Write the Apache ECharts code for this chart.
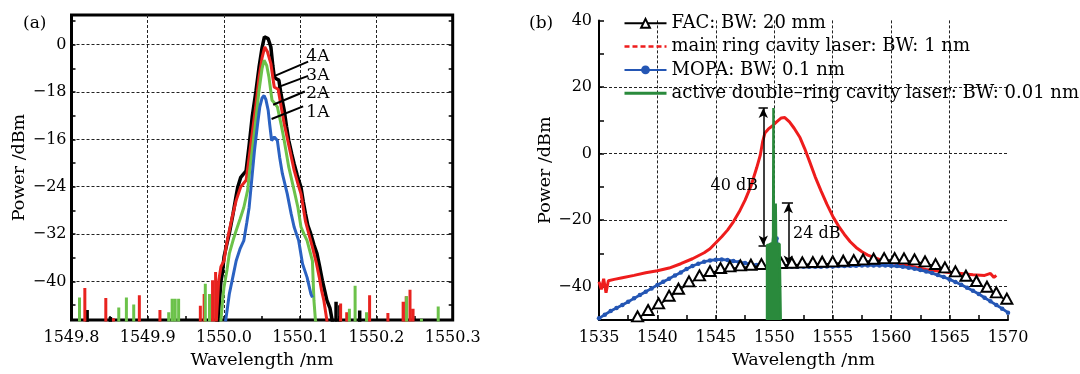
<!DOCTYPE html>
<html><head><meta charset="utf-8">
<script src="https://cdn.jsdelivr.net/npm/echarts@6/dist/echarts.min.js"></script>
<style>html,body{margin:0;padding:0;background:#fff}#c{width:1080px;height:374px}</style>
</head><body><div id="c"></div>
<script>
// ================= DATA =================
// ---- panel (a) ----
const aXTicks = [1549.8, 1549.9, 1550.0, 1550.1, 1550.2, 1550.3];
const aXMinorTicks = [1549.85, 1549.95, 1550.05, 1550.15, 1550.25];
const aYTicks = [0, -8, -16, -24, -32, -40];
const aYTickLabels = ['0', '−18', '−16', '−24', '−32', '−40'];
const aYMinorTicks = [4, -4, -12, -20, -28, -36, -44];
const aCurrents = ['4A', '3A', '2A', '1A'];

const a4A = [[1549.992,-46.8],[1549.996,-40],[1549.998,-38.5],[1550.000,-35.9],[1550.004,-33.5],[1550.007,-31.9],[1550.012,-28.5],[1550.016,-25.5],[1550.018,-24.1],[1550.022,-22.4],[1550.026,-21.8],[1550.029,-21.3],[1550.033,-17],[1550.037,-12.2],[1550.042,-7.8],[1550.046,-3.8],[1550.050,-0.5],[1550.053,1.3],[1550.055,1.6],[1550.058,1.0],[1550.0615,-0.4],[1550.064,-3.5],[1550.066,-5.5],[1550.069,-5.8],[1550.072,-6.0],[1550.075,-8.5],[1550.079,-11.1],[1550.082,-13.8],[1550.085,-16.2],[1550.089,-18.5],[1550.092,-20.1],[1550.096,-22.0],[1550.101,-24.1],[1550.104,-26.5],[1550.107,-28.6],[1550.110,-30.5],[1550.114,-32.0],[1550.118,-33.8],[1550.122,-35.3],[1550.126,-37.8],[1550.129,-39.8],[1550.132,-41.5],[1550.135,-43.2],[1550.139,-44.5],[1550.142,-46.6]];
const a3A = [[1549.990,-46.6],[1549.993,-40],[1549.996,-37.5],[1550.000,-36.5],[1550.003,-34],[1550.006,-32],[1550.011,-29],[1550.016,-26.3],[1550.022,-24],[1550.029,-22.9],[1550.033,-19],[1550.037,-15.0],[1550.042,-10],[1550.046,-5.5],[1550.050,-2.2],[1550.0535,-0.4],[1550.057,-1.2],[1550.0615,-3.2],[1550.064,-5.5],[1550.066,-7.2],[1550.071,-7.5],[1550.075,-10.5],[1550.079,-13.4],[1550.085,-17.0],[1550.092,-21.2],[1550.097,-23.5],[1550.101,-25.2],[1550.107,-29.9],[1550.112,-32.3],[1550.116,-34.2],[1550.121,-36.8],[1550.125,-39.3],[1550.128,-41.5],[1550.131,-43.2],[1550.135,-46.6]];
const a2A = [[1549.996,-46.6],[1549.998,-43.5],[1550.000,-41],[1550.004,-38],[1550.007,-35.3],[1550.012,-33],[1550.016,-31.4],[1550.021,-29.5],[1550.026,-27.5],[1550.031,-24.6],[1550.034,-21],[1550.037,-17.9],[1550.042,-12.5],[1550.046,-7.7],[1550.050,-4.0],[1550.0526,-2.65],[1550.056,-3.5],[1550.059,-5.5],[1550.063,-9.4],[1550.067,-10.0],[1550.070,-10.5],[1550.075,-13.5],[1550.079,-16.2],[1550.085,-20.7],[1550.092,-24.6],[1550.097,-27.5],[1550.101,-30.8],[1550.105,-32],[1550.109,-33.1],[1550.116,-36.5],[1550.117,-40],[1550.118,-43.2],[1550.120,-46.6]];
const a1A = [[1550.002,-46.8],[1550.005,-44],[1550.007,-42.1],[1550.012,-39],[1550.016,-36.5],[1550.021,-34.5],[1550.026,-33.1],[1550.030,-30],[1550.033,-27.5],[1550.037,-22],[1550.040,-17.9],[1550.044,-13.5],[1550.047,-10.5],[1550.050,-9.0],[1550.0526,-8.6],[1550.055,-9.3],[1550.058,-11.1],[1550.060,-13.5],[1550.0625,-16.2],[1550.066,-15.6],[1550.070,-16.2],[1550.073,-19],[1550.0766,-21.8],[1550.083,-25.2],[1550.088,-28.5],[1550.092,-30.8],[1550.098,-33.1],[1550.103,-37.0],[1550.109,-39.3],[1550.114,-42.1],[1550.116,-42.7]];

// noise spikes near the floor: [wavelength, top dBm]
const a4ASpikesL = [[1549.8205,-44.8],[1549.851,-46.0]];
const a4ASpikesR = [[1550.147,-43.4],[1550.152,-44.0],[1550.178,-44.9]];
const a3ASpikesL = [[1549.8175,-41.1],[1549.845,-42.8],[1549.855,-46.2],[1549.889,-42.3],[1549.916,-44.8],[1549.969,-44.1],[1549.974,-42.1],[1549.985,-39.8],[1549.989,-38.4]];
const a3ASpikesR = [[1550.153,-43.7],[1550.161,-45.2],[1550.191,-42.3],[1550.215,-45.3],[1550.235,-43.4],[1550.239,-42.5],[1550.244,-41.4],[1550.248,-44.6]];
const a2ASpikesL = [[1549.8105,-42.7],[1549.862,-44.4],[1549.872,-42.7],[1549.8816,-43.9],[1549.9275,-45.2],[1549.932,-42.9],[1549.936,-42.9],[1549.9405,-42.9],[1549.9755,-40.4],[1549.981,-42.1]];
const a2ASpikesR = [[1550.1645,-44.6],[1550.172,-40.7],[1550.187,-45.2],[1550.2395,-42.5],[1550.259,-46.3],[1550.281,-44.2]];

// current labels: leader line [from, to] and label anchor
const aLeaders = [
  [[1550.0667,-5.27],[1550.1104,-2.86]],
  [[1550.0710,-7.17],[1550.1104,-5.27]],
  [[1550.0645,-10.15],[1550.1060,-7.91]],
  [[1550.0624,-12.56],[1550.1038,-10.44]]
];
const aLabelAnchors = [[1550.108,-2.0],[1550.108,-5.2],[1550.108,-8.3],[1550.108,-11.5]];

// ---- panel (b) ----
const bXTicks = [1535, 1540, 1545, 1550, 1555, 1560, 1565, 1570];
const bXMinorTicks = [1537.5, 1542.5, 1547.5, 1552.5, 1557.5, 1562.5, 1567.5];
const bYTicks = [40, 20, 0, -20, -40];
const bYTickLabels = ['40', '20', '0', '−20', '−40'];
const bYMinorTicks = [30, 10, -10, -30];
const bNames = ['FAC: BW: 20 mm', 'main ring cavity laser: BW: 1 nm', 'MOPA: BW: 0.1 nm', 'active double–ring cavity laser: BW: 0.01 nm'];

const bFAC = [[1538.3,-49.5],[1539.2,-47.6],[1540.1,-45.6],[1541.0,-43.3],[1541.8,-41.2],[1542.7,-39.0],[1543.6,-37.2],[1544.5,-35.9],[1545.4,-35.0],[1546.2,-34.5],[1547.1,-34.2],[1548.0,-34.0],[1548.9,-33.8],[1549.8,-33.7],[1550.6,-33.5],[1551.5,-33.4],[1552.4,-33.3],[1553.3,-33.2],[1554.1,-33.1],[1555.0,-33.0],[1555.9,-32.8],[1556.8,-32.6],[1557.6,-32.4],[1558.5,-32.2],[1559.4,-32.0],[1560.3,-32.0],[1561.1,-32.1],[1562.0,-32.4],[1562.9,-33.0],[1563.8,-33.8],[1564.6,-34.8],[1565.5,-36.0],[1566.4,-37.3],[1567.3,-38.9],[1568.2,-40.6],[1569.0,-42.3],[1569.9,-44.2]];
const bMainRing = [[1535.0,-38.5],[1535.2,-40.8],[1535.4,-37.6],[1535.6,-41.8],[1535.8,-38.2],[1536.3,-37.8],[1537,-37.3],[1538,-36.6],[1539,-35.8],[1540,-35.2],[1541,-34.4],[1542,-33.1],[1543,-31.6],[1544,-29.8],[1544.5,-28.6],[1545,-26.8],[1545.5,-25],[1546,-23],[1546.5,-20.5],[1547,-17.5],[1547.5,-14],[1548,-9.8],[1548.5,-4.2],[1548.8,-0.5],[1549.0,3.5],[1549.2,6.2],[1549.5,7.4],[1549.8,8.2],[1550.2,9.5],[1550.6,10.7],[1550.9,10.8],[1551.3,9.5],[1551.7,7.6],[1552.2,4.8],[1552.6,1.5],[1553,-2.2],[1553.5,-7],[1554,-11.2],[1554.5,-15.2],[1555,-18.8],[1555.5,-21.8],[1556,-24.3],[1556.5,-26.5],[1557,-28.2],[1557.5,-29.5],[1558,-30.5],[1558.5,-31.2],[1559,-31.8],[1560,-32.7],[1561,-33.4],[1562,-34.1],[1563,-34.8],[1564,-35.3],[1565,-35.7],[1566,-36.0],[1567,-36.4],[1568,-36.6],[1568.5,-36.0],[1568.8,-37.2],[1569,-36.6]];
const bMOPA = [[1535,-49.5],[1535.5,-48.4],[1536,-47.3],[1536.5,-46.4],[1537,-45.5],[1537.5,-44.5],[1538,-43.5],[1538.5,-42.5],[1539,-41.5],[1539.5,-40.5],[1540,-39.5],[1540.5,-38.5],[1541,-37.6],[1541.5,-36.6],[1542,-35.7],[1542.5,-34.7],[1543,-33.8],[1543.5,-33.1],[1544,-32.5],[1544.5,-32.1],[1545,-31.9],[1545.5,-31.8],[1546,-32.0],[1546.5,-32.3],[1547,-32.6],[1547.5,-32.9],[1548,-33.2],[1548.5,-33.5],[1549,-33.7],[1549.5,-33.9],[1550,-34.0],[1550.2,-25.5],[1550.4,-34.0],[1551,-34.0],[1551.5,-34.0],[1552,-34.0],[1552.5,-34.0],[1553,-34.0],[1553.5,-34.0],[1554,-34.0],[1554.5,-33.9],[1555,-33.9],[1555.5,-33.8],[1556,-33.8],[1556.5,-33.7],[1557,-33.7],[1557.5,-33.6],[1558,-33.6],[1558.5,-33.6],[1559,-33.6],[1559.5,-33.6],[1560,-33.7],[1560.5,-33.8],[1561,-34.0],[1561.5,-34.3],[1562,-34.6],[1562.5,-35.0],[1563,-35.4],[1563.5,-35.9],[1564,-36.5],[1564.5,-37.1],[1565,-37.8],[1565.5,-38.6],[1566,-39.4],[1566.5,-40.3],[1567,-41.2],[1567.5,-42.2],[1568,-43.3],[1568.5,-44.4],[1569,-45.5],[1569.5,-46.6],[1570,-47.8]];
const bActive = [[1549.38,-50],[1549.38,-27.5],[1549.5,-28.0],[1549.6,-27.3],[1549.75,-27.8],[1549.85,-26.8],[1549.9,-25],[1549.93,13.7],[1549.96,-25],[1550.05,-27.0],[1550.12,-15],[1550.16,-27.0],[1550.3,-27.6],[1550.45,-27.2],[1550.55,-27.5],[1550.55,-50]];

// dB annotations
const b40dB = { x: 1549.06, top: 13.7, bottom: -27.6, capL: 1548.65, capR: 1549.45, label: '40 dB', labelAt: [1548.6, -9.7] };
const b24dB = { x: 1551.2, top: -14.9, bottom: -33.6, capL: 1550.65, capR: 1551.6, label: '24 dB', labelAt: [1551.6, -24.2] };

// ================= CHART =================
const FONT = 'DejaVu Serif';
const FLOOR = -60;
const spikes = arr => arr.flatMap(([x, t]) => [[x, FLOOR], [x, t], [x, FLOOR]]);
const gridLine = { show: true, lineStyle: { color: '#222', width: 1, type: [3, 2] } };
const labelStyle = { fontFamily: FONT, fontSize: 16, color: '#000' };
const nameStyle = { fontFamily: FONT, fontSize: 17.5, color: '#000' };

const chart = echarts.init(document.getElementById('c'), null, { renderer: 'canvas' });

const aColors = ['#000000', '#e8231f', '#6cc24a', '#2b62c2'];
const aMain = [a4A, a3A, a2A, a1A];
const aSpL = [a4ASpikesL, a3ASpikesL, a2ASpikesL, []];
const aSpR = [a4ASpikesR, a3ASpikesR, a2ASpikesR, []];

const series = [];
aMain.forEach((d, i) => {
  series.push({
    name: aCurrents[i], type: 'line', xAxisIndex: 0, yAxisIndex: 0,
    data: [...spikes(aSpL[i]), ...d, ...spikes(aSpR[i])],
    showSymbol: false, symbol: 'none', silent: true,
    lineStyle: { color: aColors[i], width: i === 0 ? 3.5 : 3 },
    z: 3 + i
  });
});
aLeaders.forEach((seg, i) => {
  series.push({
    name: 'lead' + i, type: 'line', xAxisIndex: 0, yAxisIndex: 0, data: seg,
    symbol: 'none', silent: true, lineStyle: { color: '#000', width: 2 }, z: 10
  });
});
series.push({
  name: 'aLabels', type: 'scatter', xAxisIndex: 0, yAxisIndex: 0, symbolSize: 0, silent: true,
  itemStyle: { opacity: 1 },
  data: aLabelAnchors.map((p, i) => ({ value: p, name: aCurrents[i] })),
  label: { show: true, position: 'right', distance: 0, formatter: p => p.name, fontFamily: FONT, fontSize: 17, color: '#000', opacity: 1 },
  z: 11
});

// panel b series
series.push({
  name: bNames[1], type: 'line', xAxisIndex: 2, yAxisIndex: 3, data: bMainRing,
  showSymbol: false, symbol: 'none', silent: true,
  lineStyle: { color: '#ee1c1c', width: 3 }, itemStyle: { color: '#ee1c1c' }, z: 4
});
series.push({
  name: bNames[2], type: 'line', xAxisIndex: 2, yAxisIndex: 3, data: bMOPA,
  symbol: 'circle', symbolSize: 4.5, showSymbol: true, silent: true,
  lineStyle: { color: '#2456b4', width: 2.8 }, itemStyle: { color: '#2456b4' }, z: 5
});
series.push({
  name: bNames[0], type: 'line', xAxisIndex: 2, yAxisIndex: 3, data: bFAC,
  symbol: 'emptyTriangle', symbolSize: [11, 10], symbolOffset: [0, -2], showSymbol: true, silent: true,
  lineStyle: { color: '#000', width: 1.5 }, itemStyle: { color: '#000', borderWidth: 1.5 }, z: 6
});
series.push({
  name: bNames[3], type: 'line', xAxisIndex: 2, yAxisIndex: 3, data: bActive,
  showSymbol: false, symbol: 'none', silent: true,
  lineStyle: { color: '#2a8a3c', width: 2.5 }, itemStyle: { color: '#2a8a3c' },
  areaStyle: { color: '#2a8a3c', opacity: 1, origin: 'start' }, z: 7,
  markLine: {
    silent: true, animation: false,
    label: { show: false },
    lineStyle: { color: '#000', width: 1.5, type: 'solid' },
    symbolSize: [7, 10],
    data: [
      [{ coord: [b40dB.x, b40dB.top], symbol: 'arrow' }, { coord: [b40dB.x, b40dB.bottom], symbol: 'arrow' }],
      [{ coord: [b40dB.capL, b40dB.top], symbol: 'none' }, { coord: [b40dB.capR, b40dB.top], symbol: 'none' }],
      [{ coord: [b40dB.capL, b40dB.bottom], symbol: 'none' }, { coord: [b40dB.capR, b40dB.bottom], symbol: 'none' }],
      [{ coord: [b24dB.x, b24dB.top], symbol: 'arrow' }, { coord: [b24dB.x, b24dB.bottom], symbol: 'arrow' }],
      [{ coord: [b24dB.capL, b24dB.top], symbol: 'none' }, { coord: [b24dB.capR, b24dB.top], symbol: 'none' }]
    ]
  }
});
series.push({
  name: 'bLabels', type: 'scatter', xAxisIndex: 2, yAxisIndex: 3, symbolSize: 0, silent: true,
  itemStyle: { opacity: 1 },
  data: [
    { value: b40dB.labelAt, name: b40dB.label, label: { position: 'left' } },
    { value: b24dB.labelAt, name: b24dB.label, label: { position: 'right' } }
  ],
  label: { show: true, distance: 0, formatter: p => p.name, fontFamily: FONT, fontSize: 16, color: '#000', opacity: 1 },
  z: 12
});

const tickStyle = { color: '#000', width: 1.5 };
const hiddenSymbol = { opacity: 0, borderWidth: 0 };
const option = {
  animation: false,
  backgroundColor: '#fff',
  title: [
    { text: '(a)', left: 18, top: 10, textStyle: { fontFamily: FONT, fontSize: 17, fontWeight: 'normal', color: '#000' } },
    { text: '(b)', left: 524, top: 10, textStyle: { fontFamily: FONT, fontSize: 17, fontWeight: 'normal', color: '#000' } }
  ],
  legend: {
    left: 623, top: 13.3, orient: 'vertical', itemWidth: 42, itemHeight: 11, itemGap: 3.3, padding: 0,
    selectedMode: false,
    textStyle: { fontFamily: FONT, fontSize: 18, color: '#000', lineHeight: 20 },
    data: [
      { name: bNames[0] },
      { name: bNames[1], lineStyle: { type: [5, 3], width: 2.5 }, itemStyle: hiddenSymbol },
      { name: bNames[2] },
      { name: bNames[3], lineStyle: { width: 3 }, itemStyle: hiddenSymbol }
    ]
  },
  grid: [
    { left: 71.5, top: 15, width: 381.2, height: 306, show: true, borderColor: '#000', borderWidth: 3, backgroundColor: 'rgba(0,0,0,0)' },
    { left: 599, top: 20.4, width: 409, height: 300.6 }
  ],
  xAxis: [
    { gridIndex: 0, type: 'value', min: 1549.8, max: 1550.3, position: 'bottom',
      axisLine: { show: false, onZero: false },
      axisTick: { show: true, inside: true, length: 4, lineStyle: tickStyle, customValues: [...aXTicks, ...aXMinorTicks] },
      axisLabel: { customValues: aXTicks, formatter: v => v.toFixed(1), margin: 10, ...labelStyle },
      splitLine: { show: false },
      name: 'Wavelength /nm', nameLocation: 'middle', nameGap: 31, nameTextStyle: nameStyle },
    { gridIndex: 0, type: 'value', min: 1549.8, max: 1550.3, position: 'top',
      axisLine: { show: false, onZero: false },
      axisTick: { show: false, customValues: aXTicks.slice(1, -1) },
      axisLabel: { show: false },
      splitLine: { ...gridLine, customValues: aXTicks.slice(1, -1) } },
    { gridIndex: 1, type: 'value', min: 1535, max: 1570, position: 'bottom',
      axisLine: { show: true, onZero: false, lineStyle: { color: '#000', width: 2 } },
      axisTick: { show: true, inside: true, length: 5, lineStyle: tickStyle, customValues: [...bXTicks, ...bXMinorTicks] },
      axisLabel: { customValues: bXTicks, formatter: v => String(v), margin: 10, ...labelStyle },
      splitLine: { show: false },
      name: 'Wavelength /nm', nameLocation: 'middle', nameGap: 31, nameTextStyle: nameStyle },
    { gridIndex: 1, type: 'value', min: 1535, max: 1570, position: 'top',
      axisLine: { show: false, onZero: false },
      axisTick: { show: false, customValues: bXTicks.slice(1, -1) },
      axisLabel: { show: false },
      splitLine: { ...gridLine, customValues: bXTicks.slice(1, -1) } }
  ],
  yAxis: [
    { gridIndex: 0, type: 'value', min: -46.5, max: 5, position: 'left',
      axisLine: { show: false, onZero: false },
      axisTick: { show: true, inside: true, length: 4, lineStyle: tickStyle, customValues: [...aYTicks, ...aYMinorTicks] },
      axisLabel: { customValues: aYTicks, formatter: v => aYTickLabels[aYTicks.indexOf(v)] ?? String(v), margin: 5, ...labelStyle },
      splitLine: { show: false },
      name: 'Power /dBm', nameLocation: 'middle', nameGap: 42, nameTextStyle: nameStyle },
    { gridIndex: 0, type: 'value', min: -46.5, max: 5, position: 'right',
      axisLine: { show: false, onZero: false },
      axisTick: { show: true, inside: true, length: 4, lineStyle: tickStyle, customValues: [...aYTicks, ...aYMinorTicks] },
      axisLabel: { show: false },
      splitLine: { show: false } },
    { gridIndex: 0, type: 'value', min: -46.5, max: 5, position: 'left',
      axisLine: { show: false, onZero: false },
      axisTick: { show: false, customValues: aYTicks },
      axisLabel: { show: false },
      splitLine: { ...gridLine, customValues: aYTicks } },
    { gridIndex: 1, type: 'value', min: -50, max: 40, position: 'left',
      axisLine: { show: true, onZero: false, lineStyle: { color: '#000', width: 2 } },
      axisTick: { show: true, inside: true, length: 5, lineStyle: tickStyle, customValues: [...bYTicks, ...bYMinorTicks] },
      axisLabel: { customValues: bYTicks, formatter: v => bYTickLabels[bYTicks.indexOf(v)] ?? String(v), margin: 7, ...labelStyle },
      splitLine: { show: false },
      name: 'Power /dBm', nameLocation: 'middle', nameGap: 42, nameTextStyle: nameStyle },
    { gridIndex: 1, type: 'value', min: -50, max: 40, position: 'right',
      axisLine: { show: false, onZero: false },
      axisTick: { show: false, customValues: bYTicks.slice(1) },
      axisLabel: { show: false },
      splitLine: { ...gridLine, customValues: bYTicks.slice(1) } }
  ],
  series
};
chart.setOption(option);
</script>
</body></html>
